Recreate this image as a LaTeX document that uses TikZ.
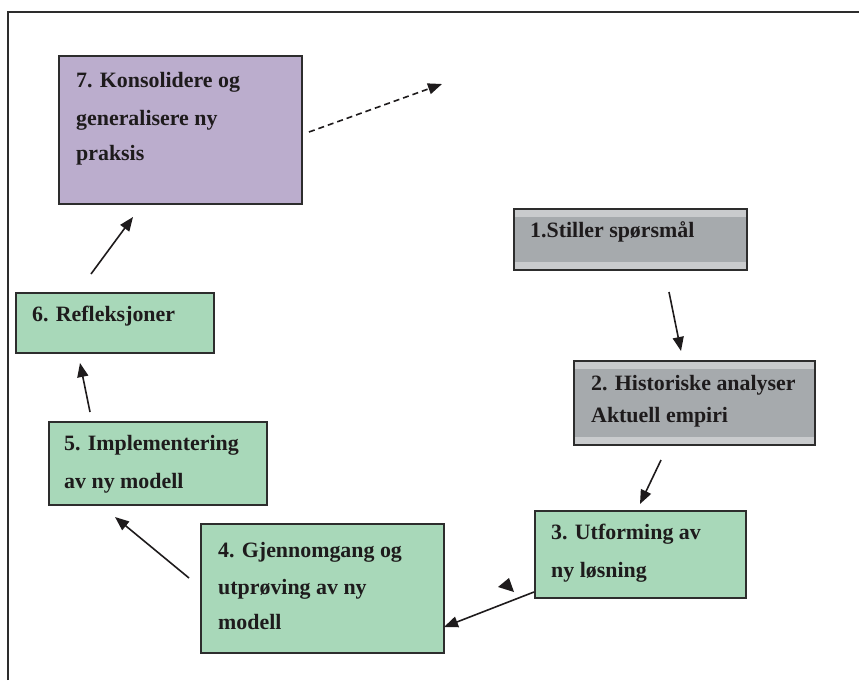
\documentclass[tikz,border=0pt]{standalone}
\usepackage{fontspec}
\setmainfont{Liberation Serif}
\usetikzlibrary{arrows.meta}

\definecolor{boxgreen}{RGB}{168,216,185}
\definecolor{boxpurple}{RGB}{187,173,205}
\definecolor{boxgray}{RGB}{166,170,173}
\definecolor{boxband}{RGB}{201,203,205}
\definecolor{boxline}{RGB}{45,45,45}
\definecolor{ink}{RGB}{30,27,28}

\tikzset{
  box/.style={draw=boxline, line width=1.8pt, anchor=north west, inner sep=0pt},
  greenbox/.style={box, fill=boxgreen},
  purplebox/.style={box, fill=boxpurple},
  graybox/.style={box, fill=boxgray, path picture={
      \fill[boxband] (path picture bounding box.north west) rectangle
        ([yshift=-8pt]path picture bounding box.north east);
      \fill[boxband] (path picture bounding box.south west) rectangle
        ([yshift=8pt]path picture bounding box.south east);}},
  txt/.style={anchor=base west, inner sep=0pt, text=ink,
      font=\bfseries\fontsize{21.9}{26}\selectfont},
  flow/.style={draw=ink, line width=1.6pt, -{Triangle[length=14pt,width=11pt]}},
}

\begin{document}
\begin{tikzpicture}[x=1pt, y=-1pt]
  \useasboundingbox (0,0) rectangle (859,680);

  % outer frame (top and left edges)
  \draw[boxline, line width=2pt] (8,680) -- (8,12) -- (859,12);

  % boxes
  \node[purplebox, minimum width=243pt, minimum height=148pt] (b7) at (58,55) {};
  \node[graybox,   minimum width=233pt, minimum height=61pt]  (b1) at (513,208) {};
  \node[graybox,   minimum width=241pt, minimum height=84pt]  (b2) at (573,360) {};
  \node[greenbox,  minimum width=211pt, minimum height=87pt]  (b3) at (534,510) {};
  \node[greenbox,  minimum width=243pt, minimum height=129pt] (b4) at (200,523) {};
  \node[greenbox,  minimum width=218pt, minimum height=83pt]  (b5) at (48,421) {};
  \node[greenbox,  minimum width=198pt, minimum height=60pt]  (b6) at (15,292) {};

  % box texts
  \node[txt] (t7a) at (76,87)  {7. Konsolidere og};
  \node[txt] (t7b) at (76,125) {generalisere ny};
  \node[txt] (t7c) at (76,160) {praksis};
  \node[txt] (t1)  at (530,237) {1.Stiller spørsmål};
  \node[txt] (t2a) at (591,390) {2. Historiske analyser};
  \node[txt] (t2b) at (591,422) {Aktuell empiri};
  \node[txt] (t3a) at (551,539) {3. Utforming av};
  \node[txt] (t3b) at (551,577) {ny løsning};
  \node[txt] (t4a) at (218,557) {4. Gjennomgang og};
  \node[txt] (t4b) at (218,594) {utprøving av ny};
  \node[txt] (t4c) at (218,629) {modell};
  \node[txt] (t5a) at (64,450) {5. Implementering};
  \node[txt] (t5b) at (64,488) {av ny modell};
  \node[txt] (t6)  at (32,321) {6. Refleksjoner};

  % connector end points
  \coordinate (s12) at (669,292);  \coordinate (e12) at (681,351);
  \coordinate (s23) at (661,460);  \coordinate (e23) at (640,504);
  \coordinate (s34) at (534,592);  \coordinate (e34) at (444,627);
  \coordinate (s45) at (189,578);  \coordinate (e45) at (115,517);
  \coordinate (s56) at (90,412);   \coordinate (e56) at (80,363);
  \coordinate (s67) at (91,274);   \coordinate (e67) at (133,217);
  \coordinate (s7x) at (309,132);  \coordinate (e7x) at (442,84);

  % connectors
  \draw[flow] (s12) -- (e12);
  \draw[flow] (s23) -- (e23);
  \draw[flow] (s34) -- (e34);
  \draw[flow] (s45) -- (e45);
  \draw[flow] (s56) -- (e56);
  \draw[flow] (s67) -- (e67);
  \draw[flow, dash pattern=on 6pt off 4pt] (s7x) -- (e7x);

  % loose arrowhead beside box 3
  \fill[ink] (509,578) -- (498,587) -- (514,592) -- cycle;
\end{tikzpicture}
\end{document}
